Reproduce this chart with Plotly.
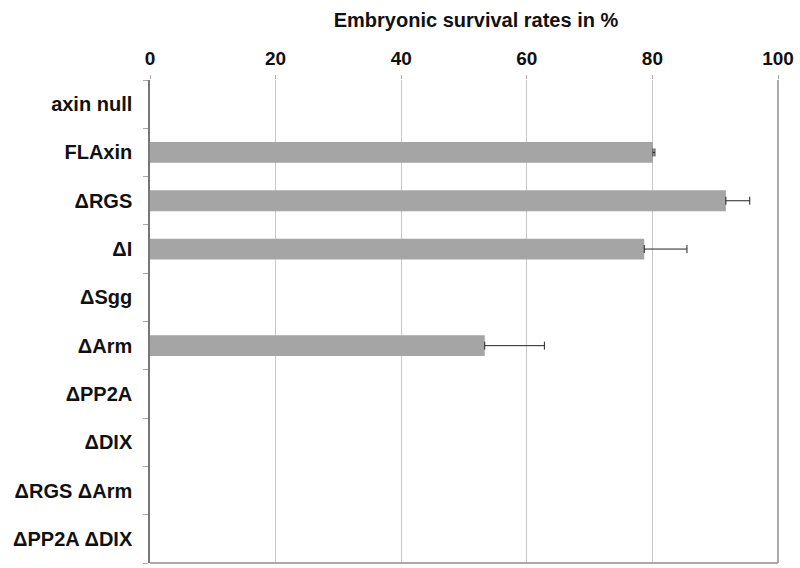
import plotly.graph_objects as go

categories = ["axin null", "FLAxin", "ΔRGS", "ΔI", "ΔSgg", "ΔArm", "ΔPP2A", "ΔDIX", "ΔRGS ΔArm", "ΔPP2A ΔDIX"]
survival = [0, 80.1, 91.7, 78.7, 0, 53.3, 0, 0, 0, 0]
errors = [0, 0.3, 3.8, 6.8, 0, 9.5, 0, 0, 0, 0]
x_ticks = [0, 20, 40, 60, 80, 100]

FONT = "Liberation Sans, Arial, Helvetica, sans-serif"

# zero-valued bars are not drawn (no visible bar in the chart)
bar_x = [v if v > 0 else None for v in survival]
err_plus = [e if v > 0 else None for v, e in zip(survival, errors)]
err_minus = [0 if v > 0 else None for v in survival]

fig = go.Figure()
fig.add_trace(go.Bar(
    y=categories, x=bar_x, orientation="h",
    marker=dict(color="#a5a5a5", line=dict(width=0)),
    error_x=dict(type="data", symmetric=False, array=err_plus, arrayminus=err_minus,
                 visible=True, color="#222222", thickness=1, width=4),
))

fig.update_layout(
    width=800, height=568,
    paper_bgcolor="white", plot_bgcolor="white",
    margin=dict(l=150, r=22, t=80, b=5),
    bargap=0.57,
    showlegend=False,
    font=dict(family=FONT, color="#111111"),
    title=dict(text="<b>Embryonic survival rates in %</b>", x=0.595, xanchor="center",
               y=0.965, yanchor="middle", font=dict(size=20, family=FONT, color="#111")),
    xaxis=dict(side="top", range=[0, 100], tickvals=x_ticks, ticktext=[f"<b>{v}</b>" for v in x_ticks],
               tickfont=dict(size=19, family=FONT, color="#111"),
               showgrid=True, gridcolor="#c8c8c8", gridwidth=1,
               zeroline=False, showline=False,
               ticks="outside", ticklen=4, tickcolor="#aaaaaa", ticklabelstandoff=2),
    yaxis=dict(autorange="reversed", categoryorder="array", categoryarray=categories,
               tickvals=categories, ticktext=[f"<b>{c}</b>" for c in categories],
               tickfont=dict(size=20, family=FONT, color="#111"),
               showline=True, linecolor="#777777", linewidth=1.5,
               ticks="outside", ticklen=5, tickcolor="#aaaaaa", tickson="boundaries",
               ticklabelstandoff=12, showgrid=False),
    shapes=[
        dict(type="line", xref="paper", yref="paper", x0=1, x1=1, y0=0, y1=1,
             line=dict(color="#aaaaaa", width=2)),
        dict(type="line", xref="paper", yref="paper", x0=0, x1=1, y0=0, y1=0,
             line=dict(color="#aaaaaa", width=2)),
    ],
)

fig.write_html("out.html", config={"displayModeBar": False},
               post_script="document.body.style.margin='0';document.body.style.padding='0';")
